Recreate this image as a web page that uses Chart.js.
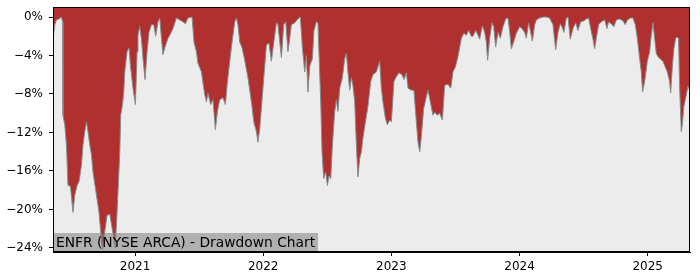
<!DOCTYPE html>
<html>
<head>
<meta charset="utf-8">
<script src="https://cdn.jsdelivr.net/npm/chart.js@4"></script>
<style>
  html, body { margin: 0; padding: 0; background: #ffffff; }
  #wrap { width: 700px; height: 280px; }
</style>
</head>
<body>
<div id="wrap"><canvas id="chart_dd" width="700" height="280"></canvas></div>
<script>
// dates as decimal years, drawdown in %
const dates = [
  2020.360, 2020.374, 2020.387, 2020.407, 2020.426, 2020.434, 2020.438, 2020.452, 2020.465, 2020.477,
  2020.496, 2020.516, 2020.530, 2020.548, 2020.563, 2020.582, 2020.594, 2020.608, 2020.621, 2020.633,
  2020.647, 2020.660, 2020.672, 2020.699, 2020.719, 2020.732, 2020.746, 2020.764, 2020.782, 2020.803,
  2020.816, 2020.834, 2020.844, 2020.855, 2020.867, 2020.881, 2020.888, 2020.902, 2020.912, 2020.920,
  2020.938, 2020.953, 2020.964, 2020.984, 2021.003, 2021.016, 2021.023, 2021.037, 2021.050, 2021.062,
  2021.078, 2021.094, 2021.109, 2021.128, 2021.146, 2021.161, 2021.179, 2021.193, 2021.206, 2021.218,
  2021.232, 2021.257, 2021.271, 2021.296, 2021.323, 2021.349, 2021.374, 2021.393, 2021.413, 2021.445,
  2021.460, 2021.479, 2021.491, 2021.518, 2021.544, 2021.557, 2021.569, 2021.590, 2021.608, 2021.627,
  2021.643, 2021.661, 2021.686, 2021.705, 2021.721, 2021.739, 2021.757, 2021.778, 2021.791, 2021.803,
  2021.817, 2021.835, 2021.856, 2021.881, 2021.908, 2021.928, 2021.947, 2021.959, 2021.973, 2021.998,
  2022.025, 2022.045, 2022.064, 2022.082, 2022.103, 2022.115, 2022.134, 2022.142, 2022.160, 2022.176,
  2022.193, 2022.207, 2022.220, 2022.246, 2022.271, 2022.290, 2022.306, 2022.324, 2022.337, 2022.349,
  2022.363, 2022.384, 2022.396, 2022.415, 2022.427, 2022.435, 2022.449, 2022.459, 2022.472, 2022.488,
  2022.501, 2022.513, 2022.527, 2022.540, 2022.558, 2022.571, 2022.583, 2022.597, 2022.618, 2022.636,
  2022.649, 2022.661, 2022.675, 2022.688, 2022.700, 2022.714, 2022.727, 2022.739, 2022.753, 2022.766,
  2022.778, 2022.800, 2022.817, 2022.839, 2022.856, 2022.883, 2022.909, 2022.922, 2022.934, 2022.953,
  2022.969, 2022.987, 2023.000, 2023.020, 2023.039, 2023.059, 2023.083, 2023.098, 2023.117, 2023.130,
  2023.156, 2023.176, 2023.195, 2023.208, 2023.221, 2023.234, 2023.252, 2023.273, 2023.286, 2023.304,
  2023.324, 2023.338, 2023.359, 2023.377, 2023.398, 2023.416, 2023.442, 2023.463, 2023.481, 2023.499,
  2023.520, 2023.546, 2023.566, 2023.585, 2023.603, 2023.624, 2023.637, 2023.658, 2023.676, 2023.689,
  2023.710, 2023.728, 2023.741, 2023.751, 2023.767, 2023.785, 2023.798, 2023.814, 2023.832, 2023.850,
  2023.871, 2023.892, 2023.910, 2023.923, 2023.936, 2023.954, 2023.975, 2024.001, 2024.019, 2024.040,
  2024.053, 2024.071, 2024.084, 2024.100, 2024.118, 2024.131, 2024.157, 2024.183, 2024.209, 2024.235,
  2024.261, 2024.282, 2024.300, 2024.318, 2024.334, 2024.346, 2024.365, 2024.378, 2024.396, 2024.417,
  2024.438, 2024.456, 2024.477, 2024.502, 2024.521, 2024.539, 2024.555, 2024.573, 2024.586, 2024.599,
  2024.617, 2024.638, 2024.664, 2024.682, 2024.695, 2024.716, 2024.736, 2024.755, 2024.781, 2024.807,
  2024.825, 2024.841, 2024.867, 2024.885, 2024.903, 2024.919, 2024.937, 2024.950, 2024.960, 2024.976,
  2024.997, 2025.015, 2025.028, 2025.041, 2025.054, 2025.067, 2025.080, 2025.101, 2025.119, 2025.137,
  2025.153, 2025.171, 2025.179, 2025.192, 2025.204, 2025.218, 2025.231, 2025.241, 2025.249, 2025.262,
  2025.270, 2025.282, 2025.301, 2025.314, 2025.327
];

const drawdown = [
  -2.2, -0.8, -0.3, -0.2, 0.0, -0.5, -10.2, -11.2, -13.3, -17.5,
  -17.6, -20.3, -18.5, -17.5, -17.1, -15.4, -13.3, -11.9, -10.9, -11.9,
  -13.3, -14.3, -16.1, -18.5, -20.3, -22.3, -24.2, -22.3, -20.6, -20.5,
  -21.5, -23.0, -24.0, -21.6, -18.2, -14.0, -10.2, -9.1, -7.8, -5.7,
  -3.6, -3.2, -5.0, -7.4, -9.1, -3.6, -1.9, -1.0, -2.3, -4.3,
  -6.5, -3.6, -1.6, -0.8, -0.8, -2.0, -0.5, -0.1, -2.2, -3.9,
  -3.2, -2.2, -1.9, -1.2, -0.1, -0.3, -0.5, -0.7, -0.1, 0.0,
  -2.6, -3.6, -4.8, -5.7, -8.1, -8.8, -7.9, -9.1, -8.6, -11.7,
  -9.8, -8.6, -8.4, -9.1, -6.7, -4.6, -2.6, -0.5, -0.1, -0.8,
  -2.6, -3.2, -4.5, -6.3, -8.8, -11.0, -11.9, -13.0, -11.6, -7.4,
  -2.9, -2.7, -4.6, -2.7, -0.6, -0.8, -3.2, -4.2, -0.8, -0.5,
  -3.6, -2.2, -0.8, -0.6, -0.2, 0.0, -3.2, -5.7, -4.0, -7.8,
  -5.1, -4.3, -1.4, -0.5, -0.6, -3.6, -8.8, -14.0, -16.8, -16.1,
  -17.5, -16.5, -16.8, -13.3, -9.8, -8.6, -9.8, -7.4, -6.3, -4.3,
  -3.8, -5.7, -7.6, -6.3, -7.1, -8.8, -13.3, -16.6, -14.7, -14.0,
  -12.6, -10.7, -9.3, -6.7, -6.0, -5.7, -4.6, -7.4, -8.8, -10.5,
  -11.2, -10.7, -10.9, -6.7, -6.2, -5.8, -6.0, -6.5, -5.8, -7.4,
  -7.6, -7.6, -10.9, -13.0, -14.0, -12.4, -9.5, -8.3, -7.6, -8.8,
  -10.2, -9.9, -10.2, -10.0, -10.7, -7.1, -7.0, -7.4, -5.7, -5.2,
  -4.1, -2.2, -1.7, -1.9, -1.4, -2.0, -2.0, -1.4, -1.9, -2.3,
  -0.9, -1.6, -2.6, -4.5, -2.2, -0.6, -1.0, -3.1, -1.6, -2.2,
  -1.0, -0.2, -0.1, -1.5, -3.3, -2.6, -1.7, -1.0, -1.2, -1.6,
  -2.2, -0.6, -1.4, -2.5, -0.8, -0.3, -0.1, 0.0, 0.0, -0.1,
  -0.8, -3.4, -1.6, -0.7, -1.1, -1.6, -0.1, 0.0, -2.3, -1.2,
  -0.6, -1.4, -0.5, -0.4, -0.2, -0.1, -1.2, -2.3, -3.3, -2.2,
  -0.8, -0.5, -0.3, -1.2, -0.5, -0.7, -1.0, -0.3, -0.2, -0.4,
  -0.8, -0.3, -0.1, -0.1, -0.8, -2.2, -4.3, -5.7, -7.8, -6.7,
  -4.6, -3.6, -1.9, -0.6, -2.2, -3.8, -4.1, -4.4, -4.6, -5.2,
  -5.7, -6.7, -7.9, -5.2, -3.3, -2.2, -2.1, -2.2, -7.2, -11.9,
  -11.2, -9.3, -8.1, -7.2, -7.6
];

const yearTicks = [2021, 2022, 2023, 2024, 2025];
const pctTicks = [0, -4, -8, -12, -16, -20, -24];
const chartTitle = 'ENFR (NYSE ARCA) - Drawdown Chart';

const plotBg = '#b03030';
const fillGray = '#ececec';

const points = dates.map((d, i) => ({x: d, y: drawdown[i]}));

// red background behind the plot, frame + label box on top
const framePlugin = {
    id: 'frame',
    beforeDatasetsDraw(chart) {
        const {ctx, chartArea: a} = chart;
        ctx.save();
        ctx.fillStyle = plotBg;
        ctx.fillRect(a.left, a.top, a.right - a.left, a.bottom - a.top);
        ctx.restore();
    },
    afterDraw(chart) {
        const {ctx, chartArea: a} = chart;
        ctx.save();
        ctx.font = '13.8px "DejaVu Sans"';
        const w = ctx.measureText(chartTitle).width;
        ctx.fillStyle = 'rgba(128,128,128,0.55)';
        ctx.fillRect(a.left, a.bottom - 19, w + 6, 19);
        ctx.fillStyle = '#000000';
        ctx.textBaseline = 'middle';
        ctx.fillText(chartTitle, a.left + 3, a.bottom - 9);
        ctx.strokeStyle = '#000000';
        ctx.lineWidth = 1;
        ctx.strokeRect(Math.round(a.left) + 0.5, Math.round(a.top) + 0.5,
            Math.round(a.right - a.left) - 1, Math.round(a.bottom - a.top) - 1);
        ctx.restore();
    }
};

const noPad = s => { s.paddingTop = 0; s.paddingBottom = 0; s.paddingLeft = 0; s.paddingRight = 0; };

new Chart(document.getElementById('chart_dd'), {
    type: 'line',
    data: {
        datasets: [{
            data: points,
            borderColor: '#8a8a8a',
            borderWidth: 1,
            backgroundColor: fillGray,
            fill: 'start',
            pointRadius: 0,
            tension: 0,
        }]
    },
    options: {
        responsive: false,
        animation: false,
        devicePixelRatio: 1,
        layout: {padding: {left: 0, right: 10, top: 7, bottom: 0}},
        plugins: {legend: {display: false}, tooltip: {enabled: false}},
        scales: {
            x: {
                type: 'linear',
                min: 2020.36,
                max: 2025.33,
                afterBuildTicks: s => { s.ticks = yearTicks.map(v => ({value: v})); },
                afterFit: s => { s.height = 28; noPad(s); },
                grid: {drawOnChartArea: false, drawTicks: true, tickLength: 4, color: '#000000'},
                border: {display: true, color: '#000000'},
                ticks: {
                    color: '#000000',
                    font: {family: 'DejaVu Sans', size: 12},
                    padding: 4,
                    maxRotation: 0,
                    callback: v => String(v)
                }
            },
            y: {
                min: -24.42,
                max: 1.04,
                afterBuildTicks: s => { s.ticks = pctTicks.map(v => ({value: v})); },
                afterFit: s => { s.width = 53; noPad(s); },
                grid: {drawOnChartArea: false, drawTicks: true, tickLength: 4, color: '#000000'},
                border: {display: true, color: '#000000'},
                ticks: {
                    color: '#000000',
                    font: {family: 'DejaVu Sans', size: 12},
                    padding: 6,
                    callback: v => (v < 0 ? '\u2212' : '') + Math.abs(v) + '%'
                }
            }
        }
    },
    plugins: [framePlugin]
});
</script>
</body>
</html>
